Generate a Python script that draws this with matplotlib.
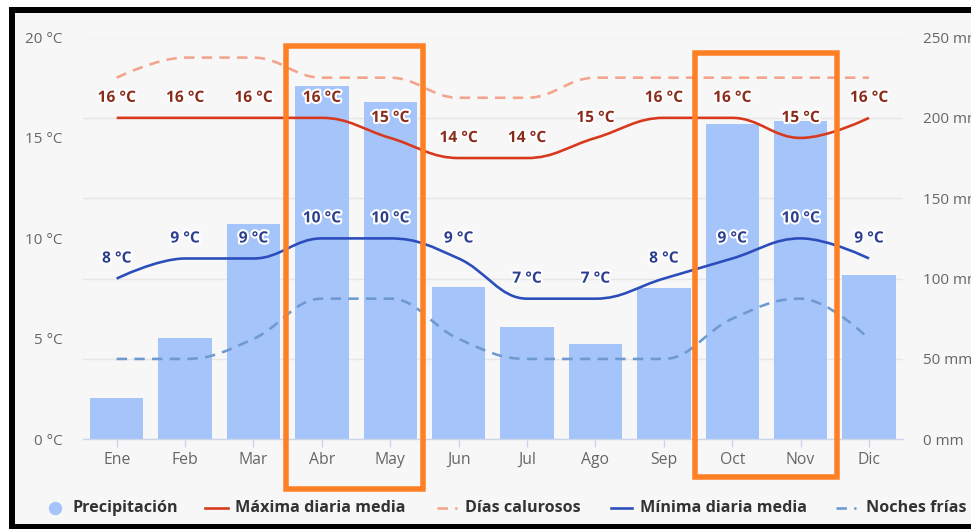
import matplotlib
matplotlib.use("Agg")
import matplotlib.pyplot as plt
from matplotlib.patches import Rectangle, PathPatch
from matplotlib.lines import Line2D
from matplotlib.path import Path
import matplotlib.patheffects as pe
import matplotlib.transforms as mtransforms

plt.rcParams["font.family"] = ["Open Sans", "DejaVu Sans"]

# ---- data -------------------------------------------------------------
months = ["Ene", "Feb", "Mar", "Abr", "May", "Jun",
          "Jul", "Ago", "Sep", "Oct", "Nov", "Dic"]
precip_mm = [26, 63, 134, 220, 210, 95, 70, 59, 94, 196, 198, 102]
max_c = [16, 16, 16, 16, 15, 14, 14, 15, 16, 16, 15, 16]
hot_days_c = [18, 19, 19, 18, 18, 17, 17, 18, 18, 18, 18, 18]
min_c = [8, 9, 9, 10, 10, 9, 7, 7, 8, 9, 10, 9]
cold_nights_c = [4, 4, 5, 7, 7, 5, 4, 4, 4, 6, 7, 5]
temp_ticks = [0, 5, 10, 15, 20]
precip_ticks = [0, 50, 100, 150, 200, 250]
highlight_months = [("Abr", "May"), ("Oct", "Nov")]

# ---- style ------------------------------------------------------------
W, H = 971, 529
C_BAR = "#a5c4f9"
C_MAX = "#d8391c"
C_MAX_LBL = "#8a2c1a"
C_HOT = "#f3a48c"
C_MIN = "#2b4dbb"
C_MIN_LBL = "#2c3f8e"
C_COLD = "#6f9ad0"
C_GRID = "#e6e6e6"
C_AXIS = "#ccd6eb"
C_TXT = "#666666"
C_HL = "#ff7f24"
PX = 72 / 100  # points per pixel


def spline_path(xs, ys, smoothing=1.5):
    """Smooth cubic path through the points (Highcharts-style spline)."""
    n = len(xs)
    left = [None] * n
    right = [None] * n
    d = smoothing + 1
    for i in range(1, n - 1):
        lx, ly = xs[i - 1], ys[i - 1]
        nx, ny = xs[i + 1], ys[i + 1]
        px, py = xs[i], ys[i]
        lcx, lcy = (smoothing * px + lx) / d, (smoothing * py + ly) / d
        rcx, rcy = (smoothing * px + nx) / d, (smoothing * py + ny) / d
        if rcx != lcx:
            corr = ((rcy - lcy) * (rcx - px)) / (rcx - lcx) + py - rcy
            lcy += corr
            rcy += corr
        if lcy > ly and lcy > py:
            lcy = max(ly, py); rcy = 2 * py - lcy
        elif lcy < ly and lcy < py:
            lcy = min(ly, py); rcy = 2 * py - lcy
        if rcy > ny and rcy > py:
            rcy = max(ny, py); lcy = 2 * py - rcy
        elif rcy < ny and rcy < py:
            rcy = min(ny, py); lcy = 2 * py - rcy
        left[i] = (lcx, lcy)
        right[i] = (rcx, rcy)
    verts = [(xs[0], ys[0])]
    codes = [Path.MOVETO]
    for i in range(1, n):
        c1 = right[i - 1] or (xs[i - 1], ys[i - 1])
        c2 = left[i] or (xs[i], ys[i])
        verts += [c1, c2, (xs[i], ys[i])]
        codes += [Path.CURVE4] * 3
    return Path(verts, codes)


fig = plt.figure(figsize=(W / 100, H / 100), dpi=100, facecolor="white")

# framed light panel
frame = Rectangle((11.7 / W, 2 / H), 1.2, (527 - 10.3) / H,
                  transform=fig.transFigure, facecolor="#f7f7f7",
                  edgecolor="black", linewidth=6 * PX, zorder=-5)
fig.add_artist(frame)

left_px, right_px, top_px, bottom_px = 82.5, 903.2, 37.5, 439.3
ax_mm = fig.add_axes([left_px / W, 1 - bottom_px / H,
                      (right_px - left_px) / W, (bottom_px - top_px) / H])
ax_mm.set_facecolor("none")
ax_t = ax_mm.twinx()
ax_t.set_facecolor("none")

x = list(range(len(months)))

# precipitation bars (right scale)
ax_mm.bar(x, precip_mm, width=0.78, color=C_BAR, zorder=2)
ax_mm.set_ylim(0, 250)
ax_mm.set_xlim(-0.5, 11.5)
ax_mm.set_yticks(precip_ticks)
ax_mm.set_yticklabels([f"{v} mm" for v in precip_ticks])
ax_mm.yaxis.tick_right()
ax_mm.grid(axis="y", color=C_GRID, linewidth=1, zorder=0)
ax_mm.set_axisbelow(True)
for s in ["top", "left", "right"]:
    ax_mm.spines[s].set_visible(False)
ax_mm.spines["bottom"].set_color(C_AXIS)
ax_mm.spines["bottom"].set_linewidth(1)
ax_mm.set_xticks(x)
ax_mm.set_xticklabels(months)
ax_mm.tick_params(axis="x", length=8 * PX, width=1, color=C_AXIS,
                  pad=5 * PX, labelsize=11.3, labelcolor=C_TXT)
ax_mm.tick_params(axis="y", length=0, pad=20 * PX, labelsize=11,
                  labelcolor=C_TXT)

# temperature lines (left scale)
ax_t.set_ylim(0, 20)
ax_t.set_yticks(temp_ticks)
ax_t.set_yticklabels([f"{v} °C" for v in temp_ticks])
ax_t.yaxis.tick_left()
ax_t.tick_params(axis="y", length=0, pad=20 * PX, labelsize=11,
                 labelcolor=C_TXT)
for s in ax_t.spines.values():
    s.set_visible(False)

series = [
    (hot_days_c, C_HOT, (0, (4, 2.8)), 2.6),
    (max_c, C_MAX, "solid", 2.6),
    (cold_nights_c, C_COLD, (0, (4, 2.8)), 2.6),
    (min_c, C_MIN, "solid", 2.6),
]
for vals, col, ls, lw in series:
    ax_t.add_patch(PathPatch(spline_path(x, vals), fill=False, edgecolor=col,
                             linestyle=ls, linewidth=lw * PX,
                             capstyle="butt", zorder=3))

outline = [pe.withStroke(linewidth=3, foreground="white")]
for vals, col in [(max_c, C_MAX_LBL), (min_c, C_MIN_LBL)]:
    for i, v in enumerate(vals):
        ax_t.annotate(f"{v} °C", (i, v), xytext=(0, 20 * PX),
                      textcoords="offset points", ha="center", va="center",
                      fontsize=11.2, fontweight="bold", color=col,
                      path_effects=outline, zorder=5)

# highlighted months
blend = mtransforms.blended_transform_factory(ax_t.transData, ax_t.transAxes)
boxes = [(-0.52, 0.48, 0.980, -0.124), (-0.54, 0.53, 0.961, -0.095)]
for (m0, m1), (dx0, dx1, ytop, ybot) in zip(highlight_months, boxes):
    i0, i1 = months.index(m0) + dx0, months.index(m1) + dx1
    ax_t.add_patch(Rectangle((i0, ybot), i1 - i0, ytop - ybot,
                             transform=blend, fill=False, edgecolor=C_HL,
                             linewidth=5.5 * PX, clip_on=False, zorder=6))

# legend row
ly = 1 - 508 / H
def fx(p):
    return p / W

fig.add_artist(Line2D([fx(55)], [ly], marker="o", markersize=12 * PX,
                      color=C_BAR, linestyle="none", transform=fig.transFigure))
leg_lines = [
    (205, 228, C_MAX, "solid"),
    (437, 457, C_HOT, (0, (4, 2.8))),
    (611, 632, C_MIN, "solid"),
    (836, 856, C_COLD, (0, (4, 2.8))),
]
for x0, x1, col, ls in leg_lines:
    fig.add_artist(Line2D([fx(x0), fx(x1)], [ly, ly], color=col,
                          linestyle=ls, linewidth=2.6 * PX,
                          transform=fig.transFigure))
leg_texts = [(72, "Precipitación"), (235, "Máxima diaria media"),
             (465, "Días calurosos"), (640, "Mínima diaria media"),
             (866, "Noches frías")]
for xp, t in leg_texts:
    fig.text(fx(xp), ly, t, ha="left", va="center", fontsize=11.6,
             fontweight="bold", color="#333333")

fig.savefig("out.png", dpi=100, facecolor="white")
